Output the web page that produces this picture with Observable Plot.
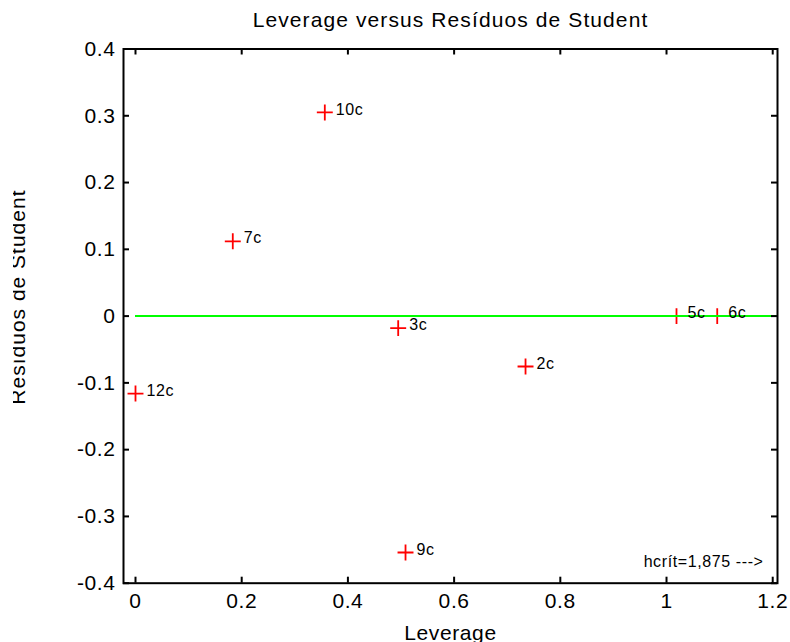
<!DOCTYPE html>
<html>
<head>
<meta charset="utf-8">
<script src="https://cdn.jsdelivr.net/npm/d3@7"></script>
<script src="https://cdn.jsdelivr.net/npm/@observablehq/plot@0.6"></script>
<style>
  html, body { margin: 0; padding: 0; background: #fff; }
  #chart svg { display: block; clip-path: inset(0 0 0 13px); }
</style>
</head>
<body>
<div id="chart"></div>
<script>
// Observations: leverage (h) and studentized residual of each sample
const observations = ["10c", "7c", "3c", "12c", "2c", "9c", "5c", "6c"];
const leverage = [0.3565, 0.1832, 0.4947, 0, 0.7345, 0.5085, 1.0188, 1.0955];
const studentResiduals = [0.305, 0.112, -0.018, -0.116, -0.0755, -0.354, 0, 0];

// Critical leverage (reference line runs from 0 up to it)
const hCritical = 1.875;

const xTicks = [0, 0.2, 0.4, 0.6, 0.8, 1, 1.2];
const yTicks = [-0.4, -0.3, -0.2, -0.1, 0, 0.1, 0.2, 0.3, 0.4];
const xDomain = [-0.0226, 1.209];
const yDomain = [-0.4, 0.4];

const titleText = "Leverage versus Resíduos de Student";
const xLabel = "Leverage";
const yLabel = "Resíduos de Student";
const hcritLabel = "hcrít=1,875 --->";

const points = observations.map((name, i) => ({name, h: leverage[i], r: studentResiduals[i]}));

const width = 790, height = 642;
const margin = {top: 48.5, right: 13, bottom: 59.3, left: 123};
const frameH = height - margin.top - margin.bottom;
const frameW = width - margin.left - margin.right;
const tickLen = 6;
const font = "'Liberation Sans', Arial, Helvetica, sans-serif";
const axisStroke = {stroke: "black", strokeWidth: 2};

const chart = Plot.plot({
  width, height,
  marginTop: margin.top, marginRight: margin.right,
  marginBottom: margin.bottom, marginLeft: margin.left,
  style: {fontFamily: font, background: "white", overflow: "visible", letterSpacing: "0.6px"},
  x: {domain: xDomain},
  y: {domain: yDomain},
  marks: [
    // data points as red crosses
    Plot.dot(points, {x: "h", y: "r", symbol: "plus", r: 5.2, stroke: "#ff0000", strokeWidth: 1.8}),
    // zero-residual reference line
    Plot.ruleY([0], {x1: 0, x2: hCritical, stroke: "#00ff00", strokeWidth: 2, clip: true}),
    // point labels
    Plot.text(points, {x: "h", y: "r", text: "name", textAnchor: "start", dx: 11, dy: -3, fontSize: 16, fill: "black"}),
    Plot.text([hcritLabel], {frameAnchor: "bottom-right", text: d => d, textAnchor: "end", lineAnchor: "bottom",
      dx: -14, dy: -16.7, fontSize: 16, fill: "black"}),
    // box and inward ticks on all four sides
    Plot.frame(axisStroke),
    Plot.tickX(xTicks, {x: d => d, insetTop: frameH - tickLen, ...axisStroke}),
    Plot.tickX(xTicks, {x: d => d, insetBottom: frameH - tickLen, ...axisStroke}),
    Plot.tickY(yTicks, {y: d => d, insetRight: frameW - tickLen, ...axisStroke}),
    Plot.tickY(yTicks, {y: d => d, insetLeft: frameW - tickLen, ...axisStroke}),
    Plot.axisX({ticks: xTicks, anchor: "bottom", tickSize: 0, tickPadding: 10, tickFormat: String,
      fontSize: 21, label: null, fill: "black"}),
    Plot.axisY({ticks: yTicks, anchor: "left", tickSize: 0, tickPadding: 8, tickFormat: String,
      fontSize: 21, label: null, fill: "black"}),
    // title and axis labels
    Plot.text([titleText], {frameAnchor: "top", text: d => d, lineAnchor: "bottom", dy: -22.5,
      fontSize: 21, fill: "black"}),
    Plot.text([xLabel], {frameAnchor: "bottom", text: d => d, lineAnchor: "bottom", dy: 56.3,
      fontSize: 21, fill: "black"}),
    Plot.text([yLabel], {frameAnchor: "left", text: d => d, rotate: -90, textAnchor: "middle", lineAnchor: "bottom",
      dx: 24 - margin.left, dy: -19, fontSize: 21, fill: "black"})
  ]
});

// wider tracking for the title and the vertical axis label
const textNode = s => d3.select(chart).selectAll("text").filter(function () { return this.textContent === s; });
textNode(titleText).attr("letter-spacing", "1.1px");
textNode(yLabel).attr("letter-spacing", "1px");
document.getElementById("chart").appendChild(chart);
</script>
</body>
</html>
